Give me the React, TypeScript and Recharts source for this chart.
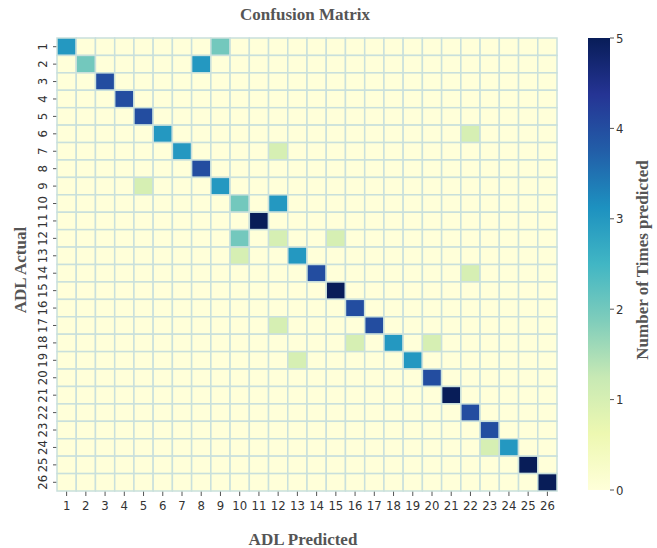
import { ScatterChart, Scatter, XAxis, YAxis, BarChart, Bar } from 'recharts';

// ADL ids 1..26 on both axes
const labels = Array.from({ length: 26 }, (_, i) => i + 1);
// correct predictions, per ADL (diagonal)
const diagonal = [3, 2, 4, 4, 4, 3, 3, 4, 3, 2, 5, 1, 3, 4, 5, 4, 4, 3, 3, 4, 5, 4, 4, 3, 5, 5];
// misclassifications: [actual, predicted, count]
const confusions: [number, number, number][] = [
  [1, 9, 2], [2, 8, 3], [6, 22, 1], [7, 12, 1], [9, 5, 1], [10, 12, 3],
  [12, 10, 2], [12, 15, 1], [13, 10, 1], [14, 22, 1], [17, 12, 1],
  [18, 16, 1], [18, 20, 1], [19, 13, 1], [24, 23, 1],
];
const colorTicks = [0, 1, 2, 3, 4, 5];

// matplotlib YlGnBu
const ylgnbu = ['#ffffd9', '#edf8b1', '#c7e9b4', '#7fcdbb', '#41b6c4', '#1d91c0', '#225ea8', '#253494', '#081d58'];

function hex(c: string) {
  return [1, 3, 5].map(i => parseInt(c.slice(i, i + 2), 16));
}
function colorFor(v: number) {
  const t = Math.max(0, Math.min(1, v / 5)) * (ylgnbu.length - 1);
  const i = Math.min(Math.floor(t), ylgnbu.length - 2);
  const f = t - i;
  const a = hex(ylgnbu[i]), b = hex(ylgnbu[i + 1]);
  const m = a.map((x, k) => Math.round(x + (b[k] - x) * f));
  return `rgb(${m[0]},${m[1]},${m[2]})`;
}

const cells = labels.flatMap(actual =>
  labels.map(pred => {
    let v = actual === pred ? diagonal[actual - 1] : 0;
    const hit = confusions.find(c => c[0] === actual && c[1] === pred);
    if (hit) v = hit[2];
    return { pred, actual, v };
  })
);

const W = 580, H = 548;
const M = { top: 38, right: 23, left: 27, bottom: 27 };
const AX = 30;
const cellW = (W - M.left - M.right - AX) / labels.length;
const cellH = (H - M.top - M.bottom - AX) / labels.length;

const serif = '"Liberation Serif", "Times New Roman", serif';
const sans = '"DejaVu Sans Condensed", "DejaVu Sans", sans-serif';

const CellShape = (p: any) => (
  <rect
    x={p.cx - cellW / 2}
    y={p.cy - cellH / 2}
    width={cellW}
    height={cellH}
    fill={colorFor(p.payload.v)}
    stroke="#c9e0dc"
    strokeWidth={1.5}
  />
);

const XTick = ({ x, y, payload }: any) => (
  <text x={x} y={y + 12} textAnchor="middle" fontSize={13} fontFamily={sans} fill="#333">
    {payload.value}
  </text>
);

const YTick = ({ x, y, payload }: any) => (
  <text
    x={x - 4}
    y={y}
    transform={`rotate(-90, ${x - 4}, ${y})`}
    textAnchor="middle"
    fontSize={13}
    fontFamily={sans}
    fill="#333"
  >
    {payload.value}
  </text>
);

export default function App() {
  return (
    <div style={{ position: 'relative', width: 657, height: 548, background: '#fff' }}>
      <style>{'body{margin:0}'}</style>
      <div style={{ position: 'absolute', left: 0, top: 0 }}>
        <ScatterChart width={W} height={H} margin={M}>
          <XAxis
            type="number"
            dataKey="pred"
            domain={[0.5, 26.5]}
            ticks={labels}
            interval={0}
            height={AX}
            axisLine={false}
            tickSize={5}
            tickLine={{ stroke: '#555' }}
            tick={<XTick />}
          />
          <YAxis
            type="number"
            dataKey="actual"
            domain={[0.5, 26.5]}
            reversed
            ticks={labels}
            interval={0}
            width={AX}
            axisLine={false}
            tickSize={4}
            tickLine={{ stroke: '#555' }}
            tick={<YTick />}
          />
          <Scatter data={cells} shape={<CellShape />} isAnimationActive={false} />
        </ScatterChart>
      </div>
      <div style={{ position: 'absolute', left: 580, top: 0 }}>
        <BarChart
          width={77}
          height={H}
          data={[{ v: 5 }]}
          margin={{ top: 38, right: 0, left: 8, bottom: 58 }}
          barCategoryGap={0}
        >
          <defs>
            <linearGradient id="cbar" x1="0" y1="1" x2="0" y2="0">
              {ylgnbu.map((c, i) => (
                <stop key={c} offset={i / (ylgnbu.length - 1)} stopColor={c} />
              ))}
            </linearGradient>
          </defs>
          <XAxis hide />
          <YAxis
            orientation="right"
            domain={[0, 5]}
            ticks={colorTicks}
            width={47}
            axisLine={false}
            tickSize={4}
            tickLine={{ stroke: '#555' }}
            tick={{ fontSize: 13, fontFamily: sans, fill: '#333' }}
          />
          <Bar dataKey="v" fill="url(#cbar)" isAnimationActive={false} />
        </BarChart>
      </div>
      <svg width={657} height={548} style={{ position: 'absolute', left: 0, top: 0, pointerEvents: 'none' }}>
        <text x={305} y={20} textAnchor="middle" fontFamily={serif} fontWeight="bold" fontSize={17} fill="#555">
          Confusion Matrix
        </text>
        <text x={303} y={545} textAnchor="middle" fontFamily={serif} fontWeight="bold" fontSize={17} fill="#555">
          ADL Predicted
        </text>
        <text x={26} y={270} transform="rotate(-90, 26, 270)" textAnchor="middle" fontFamily={serif} fontWeight="bold" fontSize={17} fill="#555">
          ADL Actual
        </text>
        <text x={648} y={260} transform="rotate(-90, 648, 260)" textAnchor="middle" fontFamily={serif} fontWeight="bold" fontSize={17} fill="#555">
          Number of Times predicted
        </text>
      </svg>
    </div>
  );
}
